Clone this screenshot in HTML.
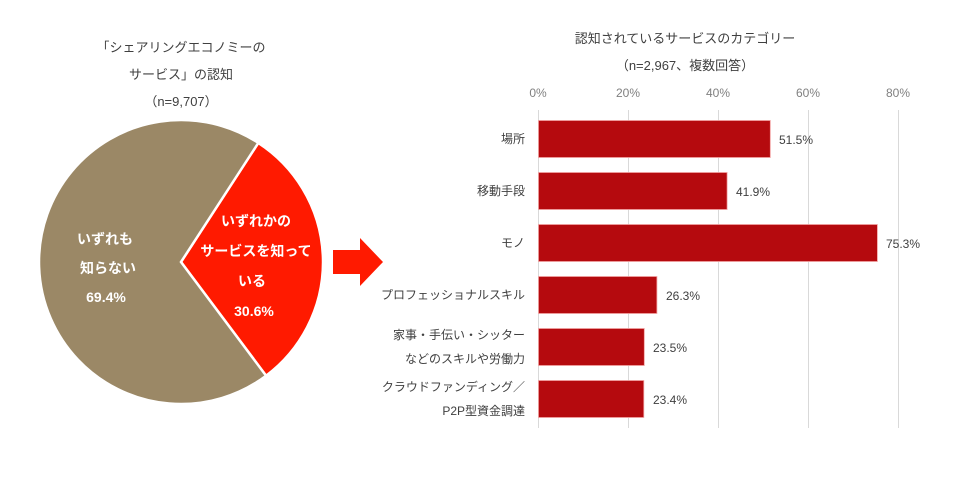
<!DOCTYPE html>
<html><head><meta charset="utf-8"><style>
body{margin:0;background:#fff;}
svg text{font-family:"Liberation Sans","Noto Sans CJK JP",sans-serif;}
</style></head><body>
<svg width="957" height="486" viewBox="0 0 957 486">
<rect width="957" height="486" fill="#fff"/>
<g font-size="13" fill="#404040" text-anchor="middle">
<text x="181" y="52">「シェアリングエコノミーの</text>
<text x="181" y="79">サービス」の認知</text>
<text x="181" y="106">（n=9,707）</text>
<text x="685" y="43">認知されているサービスのカテゴリー</text>
<text x="685" y="70">（n=2,967、複数回答）</text>
</g>
<path d="M181,262 L258.3,142.9 A142,142 0 0 1 266.1,375.7 Z" fill="#ff1a00" stroke="#fff" stroke-width="2.5"/>
<path d="M181,262 L266.1,375.7 A142,142 0 1 1 258.3,142.9 Z" fill="#9b8866" stroke="#fff" stroke-width="2.5"/>
<g font-size="14" font-weight="bold" fill="#fff" text-anchor="middle">
<text x="105" y="244">いずれも</text>
<text x="108" y="273">知らない</text>
<text x="106" y="302">69.4%</text>
<text x="256" y="226">いずれかの</text>
<text x="256" y="256">サービスを知って</text>
<text x="252" y="286">いる</text>
<text x="254" y="316">30.6%</text>
</g>
<path d="M333,250 L360,250 L360,238 L383,262 L360,286 L360,274 L333,274 Z" fill="#ff1a00"/>
<g stroke="#d9d9d9" stroke-width="1">
<line x1="538.5" y1="110" x2="538.5" y2="428"/>
<line x1="628.5" y1="110" x2="628.5" y2="428"/>
<line x1="718.5" y1="110" x2="718.5" y2="428"/>
<line x1="808.5" y1="110" x2="808.5" y2="428"/>
<line x1="898.5" y1="110" x2="898.5" y2="428"/>
</g>
<g font-size="12" fill="#808080" text-anchor="middle">
<text x="538" y="97">0%</text><text x="628" y="97">20%</text><text x="718" y="97">40%</text><text x="808" y="97">60%</text><text x="898" y="97">80%</text>
</g>
<g fill="#b50a0e" stroke="#f2a0a0" stroke-width="0.8">
<rect x="538.5" y="120.5" width="231.8" height="37"/>
<rect x="538.5" y="172.5" width="188.6" height="37"/>
<rect x="538.5" y="224.5" width="338.9" height="37"/>
<rect x="538.5" y="276.5" width="118.4" height="37"/>
<rect x="538.5" y="328.5" width="105.8" height="37"/>
<rect x="538.5" y="380.5" width="105.3" height="37"/>
</g>
<g font-size="12" fill="#404040">
<text x="779" y="144">51.5%</text>
<text x="736" y="196">41.9%</text>
<text x="886" y="248">75.3%</text>
<text x="666" y="300">26.3%</text>
<text x="653" y="352">23.5%</text>
<text x="653" y="404">23.4%</text>
</g>
<g font-size="12" fill="#404040" text-anchor="end">
<text x="525" y="143">場所</text>
<text x="525" y="195">移動手段</text>
<text x="525" y="247">モノ</text>
<text x="525" y="299">プロフェッショナルスキル</text>
<text x="525" y="339">家事・手伝い・シッター</text>
<text x="525" y="363">などのスキルや労働力</text>
<text x="525" y="391">クラウドファンディング／</text>
<text x="525" y="415">P2P型資金調達</text>
</g>
</svg>
</body></html>
